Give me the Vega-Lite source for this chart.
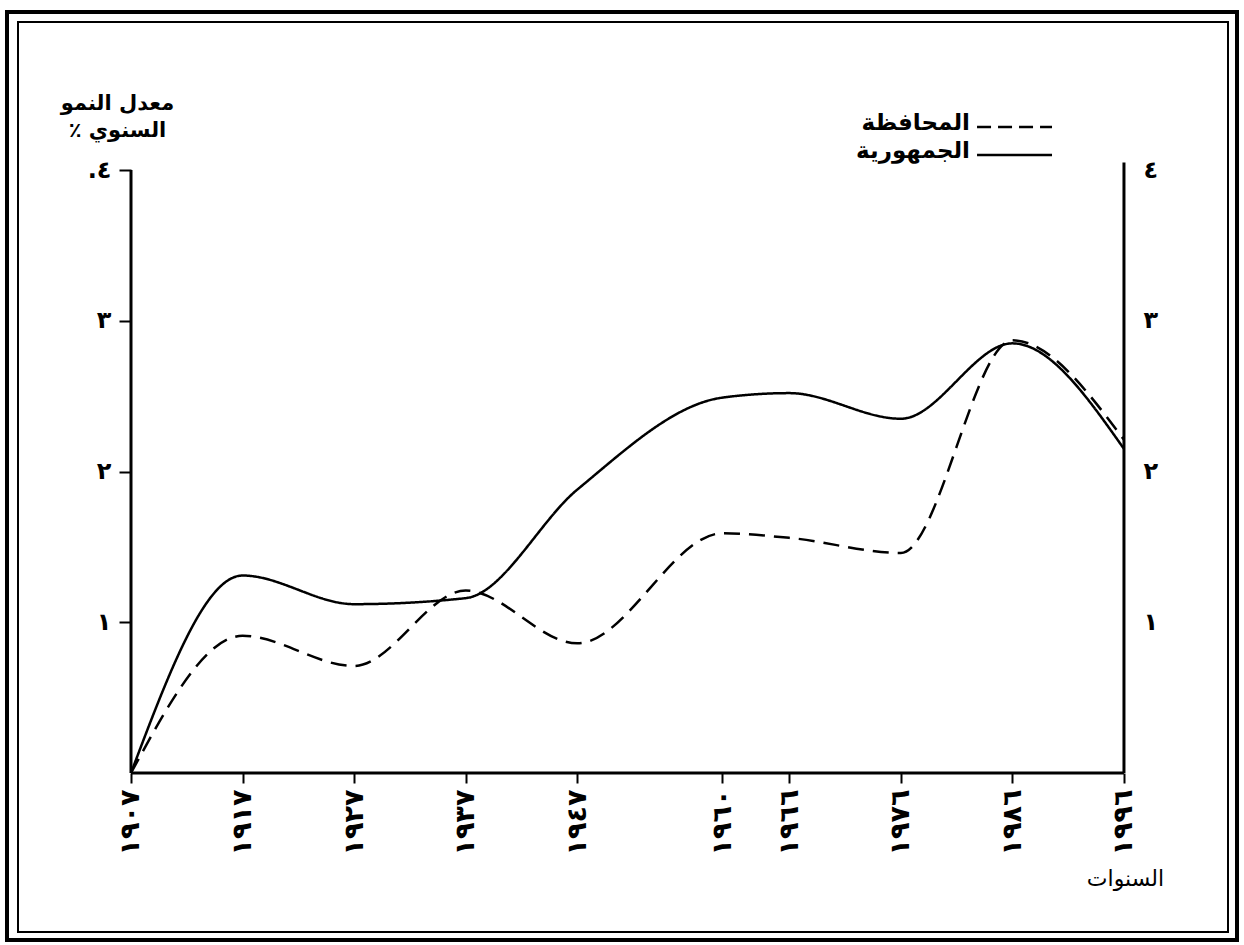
{
  "$schema": "https://vega.github.io/schema/vega-lite/v6.json",
  "width": 1210,
  "height": 910,
  "autosize": {"type": "none"},
  "padding": {"left": 18, "top": 22, "right": 16, "bottom": 13},
  "background": "white",
  "config": {"view": {"stroke": "black", "strokeWidth": 2}, "font": "DejaVu Sans"},
  "resolve": {"axis": {"x": "independent", "y": "independent"}},
  "layer": [
    {
      "data": {"values": [{}]},
      "mark": {"type": "rect", "fillOpacity": 0, "stroke": "black", "strokeWidth": 4, "clip": false},
      "encoding": {
        "x": {"datum": 1895.886, "type": "quantitative", "scale": {"domain": [1896.872, 2005.324], "nice": false, "zero": false}, "axis": null},
        "x2": {"datum": 2006.131},
        "y": {"datum": -1.108, "type": "quantitative", "scale": {"domain": [-1.0547, 4.9818], "nice": false, "zero": false}, "axis": null},
        "y2": {"datum": 5.048}
      }
    },
    {
      "data": {"values": [{}]},
      "mark": {"type": "rule", "color": "black", "strokeWidth": 3},
      "encoding": {
        "x": {"datum": 1907, "type": "quantitative", "scale": {"domain": [1896.872, 2005.324], "nice": false, "zero": false}, "axis": null},
        "x2": {"datum": 1996},
        "y": {"datum": 0, "type": "quantitative", "scale": {"domain": [-1.0547, 4.9818], "nice": false, "zero": false}, "axis": null}
      }
    },
    {
      "data": {"values": [{}]},
      "mark": {"type": "rule", "color": "black", "strokeWidth": 3},
      "encoding": {
        "x": {"datum": 1907, "type": "quantitative", "scale": {"domain": [1896.872, 2005.324], "nice": false, "zero": false}, "axis": null},
        "y": {"datum": 0, "type": "quantitative", "scale": {"domain": [-1.0547, 4.9818], "nice": false, "zero": false}, "axis": null},
        "y2": {"datum": 4.0}
      }
    },
    {
      "data": {"values": [{}]},
      "mark": {"type": "rule", "color": "black", "strokeWidth": 3},
      "encoding": {
        "x": {"datum": 1996, "type": "quantitative", "scale": {"domain": [1896.872, 2005.324], "nice": false, "zero": false}, "axis": null},
        "y": {"datum": 0, "type": "quantitative", "scale": {"domain": [-1.0547, 4.9818], "nice": false, "zero": false},
          "axis": {"orient": "right", "offset": -104, "values": [1, 2, 3, 4], "domain": false, "grid": false, "ticks": false, "tickSize": 0, "labelPadding": 19,
            "labelFont": "DejaVu Sans", "labelFontSize": 24, "labelFontWeight": "bold", "labelColor": "black", "labelAlign": "left", "labelBaseline": "middle", "title": null,
            "labelExpr": "replace(replace(replace(replace(''+datum.value,/1/g,'١'),/2/g,'٢'),/3/g,'٣'),/4/g,'٤')"}},
        "y2": {"datum": 4.05}
      }
    },
    {
      "data": {"values": [
        {"year": 1907, "series": "الجمهورية", "value": 0},
        {"year": 1917, "series": "الجمهورية", "value": 1.31},
        {"year": 1927, "series": "الجمهورية", "value": 1.12},
        {"year": 1937, "series": "الجمهورية", "value": 1.16},
        {"year": 1947, "series": "الجمهورية", "value": 1.88},
        {"year": 1960, "series": "الجمهورية", "value": 2.49},
        {"year": 1966, "series": "الجمهورية", "value": 2.52},
        {"year": 1976, "series": "الجمهورية", "value": 2.35},
        {"year": 1986, "series": "الجمهورية", "value": 2.85},
        {"year": 1996, "series": "الجمهورية", "value": 2.15},
        {"year": 1907, "series": "المحافظة", "value": 0},
        {"year": 1917, "series": "المحافظة", "value": 0.91},
        {"year": 1927, "series": "المحافظة", "value": 0.71},
        {"year": 1937, "series": "المحافظة", "value": 1.21},
        {"year": 1947, "series": "المحافظة", "value": 0.86},
        {"year": 1960, "series": "المحافظة", "value": 1.59},
        {"year": 1966, "series": "المحافظة", "value": 1.56},
        {"year": 1976, "series": "المحافظة", "value": 1.46},
        {"year": 1986, "series": "المحافظة", "value": 2.87},
        {"year": 1996, "series": "المحافظة", "value": 2.21}
      ]},
      "mark": {"type": "line", "interpolate": "monotone", "color": "black", "strokeWidth": 2.5},
      "encoding": {
        "x": {"field": "year", "type": "quantitative", "scale": {"domain": [1896.872, 2005.324], "nice": false, "zero": false},
          "axis": {"orient": "bottom", "offset": -159, "values": [1907, 1917, 1927, 1937, 1947, 1960, 1966, 1976, 1986, 1996], "domain": false, "grid": false,
            "ticks": true, "tickSize": 10, "tickWidth": 2, "tickColor": "black", "labelPadding": 6, "labelAngle": -90, "labelAlign": "right", "labelBaseline": "middle",
            "labelFont": "DejaVu Sans", "labelFontSize": 27, "labelFontWeight": "bold", "labelColor": "black",
            "labelExpr": "replace(replace(replace(replace(replace(replace(replace(replace(replace(replace(''+datum.value,/0/g,'٠'),/1/g,'١'),/2/g,'٢'),/3/g,'٣'),/4/g,'٤'),/5/g,'٥'),/6/g,'٦'),/7/g,'٧'),/8/g,'٨'),/9/g,'٩')",
            "title": "السنوات", "titleFont": "DejaVu Sans", "titleFontSize": 22, "titleFontWeight": "normal", "titleColor": "black", "titleX": 1107, "titleY": 105, "titleAlign": "center", "titleBaseline": "middle", "titleAngle": 0}},
        "y": {"field": "value", "type": "quantitative", "scale": {"domain": [-1.0547, 4.9818], "nice": false, "zero": false},
          "axis": {"orient": "left", "offset": -113, "values": [1, 2, 3, 4], "domain": false, "grid": false, "ticks": true, "tickSize": 12, "tickWidth": 2, "tickColor": "black",
            "labelPadding": 8, "labelFont": "DejaVu Sans", "labelFontSize": 24, "labelFontWeight": "bold", "labelColor": "black",
            "labelExpr": "datum.value == 4 ? '.٤' : replace(replace(replace(''+datum.value,/1/g,'١'),/2/g,'٢'),/3/g,'٣')",
            "title": ["معدل النمو", "السنوي ٪‏"], "titleFont": "DejaVu Sans", "titleFontSize": 21, "titleFontWeight": "bold", "titleColor": "black", "titleAngle": 0,
            "titleX": -14, "titleY": 70, "titleAlign": "center", "titleBaseline": "top", "titleLineHeight": 27}},
        "detail": {"field": "series"},
        "strokeDash": {"field": "series", "type": "nominal", "scale": {"domain": ["المحافظة", "الجمهورية"], "range": [[16, 9], [1, 0]]}, "legend": null}
      }
    },
    {
      "data": {"values": [{}]},
      "mark": {"type": "rule", "color": "black", "strokeWidth": 2.5, "strokeDash": [14, 7]},
      "encoding": {
        "x": {"datum": 1982.83, "type": "quantitative", "scale": {"domain": [1896.872, 2005.324], "nice": false, "zero": false}, "axis": null},
        "x2": {"datum": 1989.55},
        "y": {"datum": 4.2853, "type": "quantitative", "scale": {"domain": [-1.0547, 4.9818], "nice": false, "zero": false}, "axis": null}
      }
    },
    {
      "data": {"values": [{}]},
      "mark": {"type": "rule", "color": "black", "strokeWidth": 2.5},
      "encoding": {
        "x": {"datum": 1982.83, "type": "quantitative", "scale": {"domain": [1896.872, 2005.324], "nice": false, "zero": false}, "axis": null},
        "x2": {"datum": 1989.55},
        "y": {"datum": 4.1, "type": "quantitative", "scale": {"domain": [-1.0547, 4.9818], "nice": false, "zero": false}, "axis": null}
      }
    },
    {
      "data": {"values": [{"label": "المحافظة", "pos": 4.2853}, {"label": "الجمهورية", "pos": 4.1}]},
      "mark": {"type": "text", "align": "right", "baseline": "alphabetic", "dy": 3, "font": "DejaVu Sans", "fontSize": 23, "fontWeight": "bold", "color": "black"},
      "encoding": {
        "x": {"datum": 1982.2, "type": "quantitative", "scale": {"domain": [1896.872, 2005.324], "nice": false, "zero": false}, "axis": null},
        "y": {"field": "pos", "type": "quantitative", "scale": {"domain": [-1.0547, 4.9818], "nice": false, "zero": false}, "axis": null},
        "text": {"field": "label"}
      }
    }
  ]
}
